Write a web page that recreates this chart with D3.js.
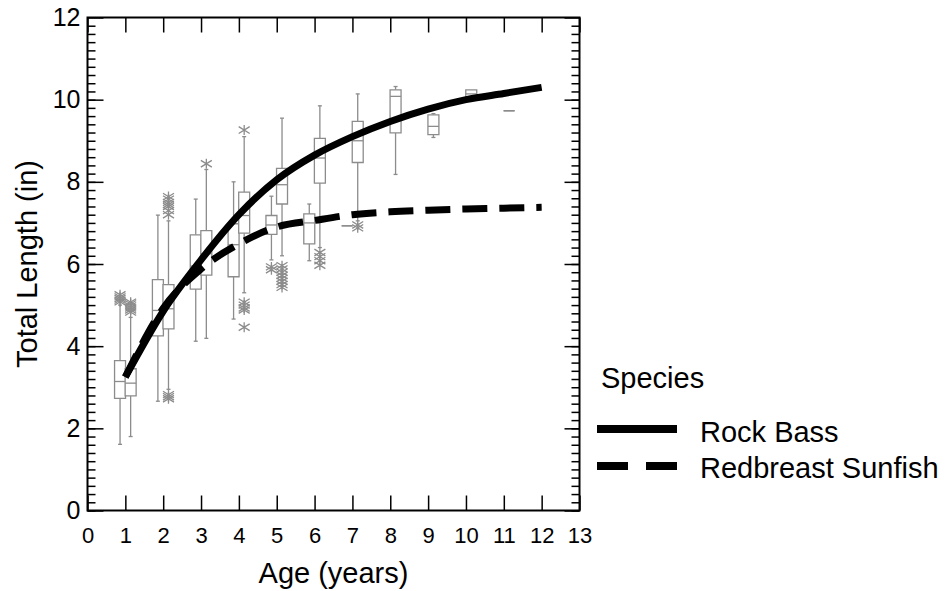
<!DOCTYPE html>
<html>
<head>
<meta charset="utf-8">
<script src="https://cdnjs.cloudflare.com/ajax/libs/d3/7.8.5/d3.min.js"></script>
<style>
	body { margin: 0; background: #fff; }
	text { font-family: "Liberation Sans", Arial, sans-serif; fill: #000; }
</style>
</head>
<body>
<div id="chart"></div>
<script>
// fitted growth curves, one value per age
var ages = [1, 2, 3, 4, 5, 6, 7, 8, 9, 10, 11, 12];
var rockBassFit  = [3.25, 4.85, 6.1, 7.2, 8.05, 8.65, 9.1, 9.47, 9.77, 10.0, 10.15, 10.3];
var redbreastFit = [3.25, 4.92, 5.88, 6.49, 6.9, 7.06, 7.2, 7.27, 7.31, 7.34, 7.36, 7.38];

// box plots: [age, whisker low, Q1, median, Q3, whisker high]
var redbreastBoxes = [
	[1, 1.61, 2.73, 3.14, 3.65, 5.0],
	[2, 2.66, 4.25, 4.87, 5.62, 7.19],
	[3, 4.12, 5.39, 5.95, 6.71, 7.58],
	[4, 4.66, 5.69, 6.47, 6.98, 8.0],
	[5, 6.1, 6.72, 6.95, 7.18, 7.65],
	[6, 6.08, 6.49, 7.0, 7.22, 7.46],
	[7, 6.93, 6.93, 6.93, 6.93, 6.93]
];
var rockBassBoxes = [
	[1, 1.8, 2.79, 3.1, 3.45, 4.7],
	[2, 2.95, 4.42, 4.91, 5.5, 7.05],
	[3, 4.19, 5.73, 6.25, 6.81, 8.3],
	[4, 5.3, 6.75, 7.18, 7.75, 9.1],
	[5, 6.2, 7.46, 7.93, 8.33, 9.55],
	[6, 6.4, 7.97, 8.58, 9.06, 9.85],
	[7, 7.05, 8.47, 9.0, 9.47, 10.14],
	[8, 8.18, 9.19, 10.08, 10.24, 10.32],
	[9, 9.08, 9.15, 9.35, 9.63, 9.66],
	[10, 10.06, 10.06, 10.14, 10.24, 10.24],
	[11, 9.73, 9.73, 9.73, 9.73, 9.73]
];

// outliers: [age, value]
var redbreastOutliers = [
	[1, 5.08], [1, 5.12], [1, 5.16], [1, 5.2], [1, 5.25],
	[5, 5.93], [5, 5.86]
];
var rockBassOutliers = [
	[1, 4.83], [1, 4.88], [1, 4.93], [1, 4.98], [1, 5.03], [1, 5.07],
	[2, 7.2], [2, 7.3], [2, 7.4], [2, 7.45], [2, 7.5], [2, 7.58], [2, 7.64],
	[2, 2.72], [2, 2.77], [2, 2.82],
	[3, 8.44],
	[4, 9.26], [4, 5.07], [4, 5.0], [4, 4.93], [4, 4.88], [4, 4.46],
	[5, 5.96], [5, 5.88], [5, 5.8], [5, 5.72], [5, 5.65], [5, 5.58], [5, 5.5], [5, 5.43],
	[6, 6.28], [6, 6.18], [6, 6.08], [6, 5.97],
	[7, 6.95], [7, 6.88]
];

var xTicks = [0, 1, 2, 3, 4, 5, 6, 7, 8, 9, 10, 11, 12, 13];
var yTicks = [0, 2, 4, 6, 8, 10, 12];
var yMinorTicks = d3.range(0, 60).map(function(i){ return i / 5; });

function init(){
	var w = 946;
	var h = 591;

	var x = d3.scaleLinear().domain([0, 13]).range([87.5, 579.5]);
	var y = d3.scaleLinear().domain([0, 12]).range([510.5, 17.5]);

	var svg = d3.select("#chart")
				.append("svg")
				.attr("width", w)
				.attr("height", h);

	var grey = "#8c8c8c";
	var boxOffset = 0.14;
	var boxW = x(0.29) - x(0);

	// asterisk marker
	function asterisk(cx, cy){
		return "M" + cx + "," + (cy - 5) + "V" + (cy + 5) +
			"M" + (cx - 5.5) + "," + (cy - 3.4) + "L" + (cx + 5.5) + "," + (cy + 3.4) +
			"M" + (cx - 5.5) + "," + (cy + 3.4) + "L" + (cx + 5.5) + "," + (cy - 3.4);
	}

	function drawBoxes(boxes, outliers, off){
		var g = svg.append("g")
					.attr("fill", "none")
					.attr("stroke", grey)
					.attr("stroke-width", 1.3);

		boxes.forEach(function(b){
			var cx = x(b[0] + off);
			var x0 = cx - boxW / 2, x1 = cx + boxW / 2;
			//whiskers
			g.append("path")
				.attr("d", "M" + cx + "," + y(b[1]) + "V" + y(b[2]) +
					"M" + cx + "," + y(b[4]) + "V" + y(b[5]));
			if (b[1] < b[2]) {
				g.append("path").attr("d", "M" + (cx - 2) + "," + y(b[1]) + "H" + (cx + 2));
			}
			if (b[5] > b[4]) {
				g.append("path").attr("d", "M" + (cx - 2) + "," + y(b[5]) + "H" + (cx + 2));
			}
			//box + median
			g.append("path")
				.attr("fill", b[2] < b[4] ? "#fff" : "none")
				.attr("d", "M" + x0 + "," + y(b[2]) + "H" + x1 + "V" + y(b[4]) + "H" + x0 + "Z");
			g.append("path")
				.attr("d", "M" + x0 + "," + y(b[3]) + "H" + x1);
		});

		g.selectAll("path.out")
			.data(outliers)
			.enter()
			.append("path")
			.attr("class", "out")
			.attr("d", function(d){ return asterisk(x(d[0] + off), y(d[1])); });
	}

	drawBoxes(redbreastBoxes, redbreastOutliers, -boxOffset);
	drawBoxes(rockBassBoxes, rockBassOutliers, boxOffset);

	// fitted curves
	var line = d3.line()
				.x(function(d){ return x(d[0]); })
				.y(function(d){ return y(d[1]); })
				.curve(d3.curveMonotoneX);

	svg.append("path")
		.datum(ages.map(function(a, i){ return [a, redbreastFit[i]]; }))
		.attr("d", line)
		.attr("fill", "none")
		.attr("stroke", "#000")
		.attr("stroke-width", 7)
		.attr("stroke-dasharray", "25,12");

	svg.append("path")
		.datum(ages.map(function(a, i){ return [a, rockBassFit[i]]; }))
		.attr("d", line)
		.attr("fill", "none")
		.attr("stroke", "#000")
		.attr("stroke-width", 7);

	// axes
	var axisStyle = function(g){
		g.selectAll(".domain").remove();
		g.selectAll(".tick line").attr("stroke", "#000").attr("stroke-width", 1.5);
	};

	svg.append("g")
		.attr("transform", "translate(0," + y(0) + ")")
		.call(d3.axisBottom(x).tickValues(xTicks).tickSize(-15).tickPadding(17).tickFormat(d3.format("d")))
		.call(axisStyle)
		.selectAll("text")
		.style("font-size", "22px");

	svg.append("g")
		.attr("transform", "translate(0," + y(12) + ")")
		.call(d3.axisTop(x).tickValues(xTicks).tickSize(-15).tickFormat(""))
		.call(axisStyle);

	svg.append("g")
		.attr("transform", "translate(" + x(0) + ",0)")
		.call(d3.axisLeft(y).tickValues(yMinorTicks).tickSize(-8).tickFormat(""))
		.call(axisStyle);

	svg.append("g")
		.attr("transform", "translate(" + x(0) + ",0)")
		.call(d3.axisLeft(y).tickValues(yTicks).tickSize(-16).tickPadding(7).tickFormat(d3.format("d")))
		.call(axisStyle)
		.selectAll("text")
		.style("font-size", "25px");

	svg.append("g")
		.attr("transform", "translate(" + x(13) + ",0)")
		.call(d3.axisRight(y).tickValues(yMinorTicks).tickSize(-8).tickFormat(""))
		.call(axisStyle);

	svg.append("g")
		.attr("transform", "translate(" + x(13) + ",0)")
		.call(d3.axisRight(y).tickValues(yTicks).tickSize(-15).tickFormat(""))
		.call(axisStyle);

	svg.append("rect")
		.attr("x", x(0))
		.attr("y", y(12))
		.attr("width", x(13) - x(0))
		.attr("height", y(0) - y(12))
		.attr("fill", "none")
		.attr("stroke", "#000")
		.attr("stroke-width", 2);

	// axis titles
	svg.append("text")
		.attr("x", (x(0) + x(13)) / 2)
		.attr("y", 583)
		.attr("text-anchor", "middle")
		.style("font-size", "29px")
		.text("Age (years)");

	svg.append("text")
		.attr("transform", "translate(37," + (y(6)) + ") rotate(-90)")
		.attr("text-anchor", "middle")
		.style("font-size", "29px")
		.text("Total Length (in)");

	// legend
	svg.append("text")
		.attr("x", 601)
		.attr("y", 388)
		.style("font-size", "29px")
		.text("Species");

	svg.append("line")
		.attr("x1", 597).attr("x2", 677)
		.attr("y1", 429).attr("y2", 429)
		.attr("stroke", "#000")
		.attr("stroke-width", 8);

	svg.append("text")
		.attr("x", 700)
		.attr("y", 442)
		.style("font-size", "29px")
		.text("Rock Bass");

	svg.append("line")
		.attr("x1", 597).attr("x2", 677)
		.attr("y1", 466).attr("y2", 466)
		.attr("stroke", "#000")
		.attr("stroke-width", 8)
		.attr("stroke-dasharray", "31,18");

	svg.append("text")
		.attr("x", 700)
		.attr("y", 478)
		.style("font-size", "29px")
		.text("Redbreast Sunfish");
}

window.onload = init;
</script>
</body>
</html>
